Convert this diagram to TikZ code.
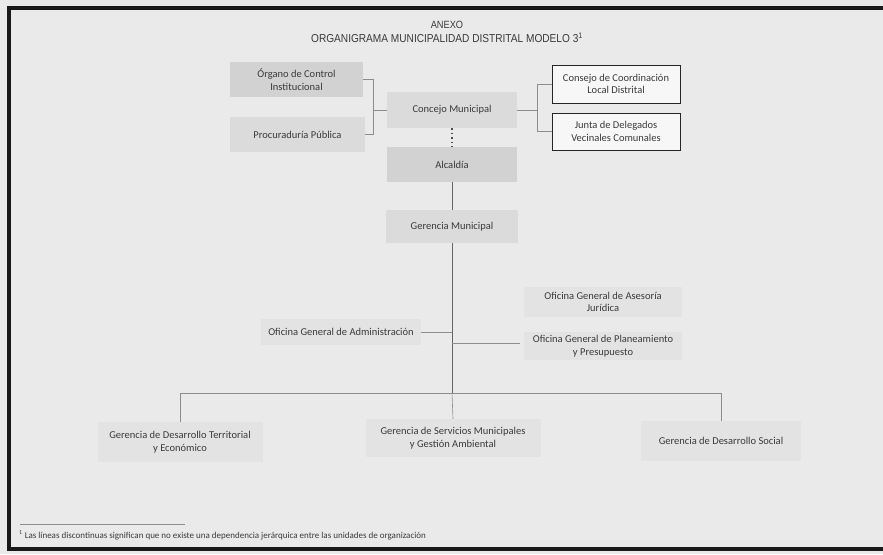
\documentclass[tikz,border=0pt]{standalone}
\usepackage{fontspec}
\setmainfont{Carlito}
\newfontfamily\titlefont[FakeStretch=0.88]{Liberation Sans}
\usepackage{xcolor}
\definecolor{paper}{HTML}{EAEAEA}
\definecolor{inkgray}{HTML}{3A3A3A}
\definecolor{unitdark}{HTML}{D2D2D2}
\definecolor{unitmid}{HTML}{DBDBDB}
\definecolor{unitfaint}{HTML}{E3E3E3}
\definecolor{linegray}{HTML}{8C8C8C}

\begin{document}
\begin{tikzpicture}[x=1pt, y=-1pt,
    unit/.style={fill=unitmid, text=inkgray, align=center, inner sep=2pt,
        font=\fontsize{10.5}{12.5}\selectfont},
    outunit/.style={unit, fill=white!60!paper, draw=black!85, line width=1pt},
    faintunit/.style={unit, fill=unitfaint},
    conn/.style={draw=linegray, line width=0.6pt},
    mainline/.style={draw=black!60, line width=0.8pt}]
    \useasboundingbox (0,0) rectangle (883,554);
    \fill[paper] (0,0) rectangle (883,554);

    % Frame
    \draw[line width=3.5pt, black!90] (883,8) -- (9,8) -- (9,549) -- (883,549);

    % Title
    \node[text=inkgray, font=\titlefont\fontsize{10.5}{12}\selectfont] (anexo) at (447,25) {ANEXO};
    \node[text=inkgray, font=\titlefont\fontsize{11.5}{13}\selectfont] (titulo) at (447,38)
        {ORGANIGRAMA MUNICIPALIDAD DISTRITAL MODELO 3\textsuperscript{1}};

    % Top units
    \node[unit, fill=unitdark, minimum width=133, minimum height=35] (organo) at (296.5,79.5)
        {Órgano de Control\\Institucional};
    \node[unit, minimum width=135, minimum height=35] (procu) at (297.5,134.5) {Procuraduría Pública};
    \node[unit, minimum width=130, minimum height=36] (concejo) at (452,110) {Concejo Municipal};
    \node[unit, fill=unitdark, minimum width=130, minimum height=35] (alcaldia) at (452,164.5) {Alcaldía};
    \node[outunit, minimum width=128, minimum height=38] (consejo) at (616,84)
        {Consejo de Coordinación\\Local Distrital};
    \node[outunit, minimum width=128, minimum height=37] (junta) at (616,131.5)
        {Junta de Delegados\\Vecinales Comunales};
    \node[unit, minimum width=132, minimum height=33] (gerencia) at (452,226.5) {Gerencia Municipal};

    % Offices
    \node[faintunit, minimum width=160, minimum height=26] (admin) at (341,332)
        {Oficina General de Administración};
    \node[faintunit, minimum width=158, minimum height=30] (asesoria) at (603,302)
        {Oficina General de Asesoría\\Jurídica};
    \node[faintunit, minimum width=158, minimum height=28] (planea) at (603,346)
        {Oficina General de Planeamiento\\y Presupuesto};

    % Bottom units
    \node[faintunit, minimum width=165, minimum height=40] (territorial) at (180,442)
        {Gerencia de Desarrollo Territorial\\y Económico};
    \node[faintunit, minimum width=175, minimum height=38] (servicios) at (453,438)
        {Gerencia de Servicios Municipales\\y Gestión Ambiental};
    \node[faintunit, minimum width=160, minimum height=40] (social) at (721,441)
        {Gerencia de Desarrollo Social};

    % Connectors
    \coordinate (lbrack) at (373,110);
    \coordinate (rbrack) at (537,110);
    \draw[conn] (organo.east) -- (organo.east -| lbrack) |- (procu.east);
    \draw[conn] (lbrack) -- (concejo.west);
    \draw[conn] (concejo.east) -- (rbrack);
    \draw[conn] (consejo.west) -- (consejo.west -| rbrack) |- (junta.west);
    \draw[black!70, line width=1.2pt, dash pattern=on 1.5pt off 3pt] (concejo.south) -- (alcaldia.north);
    \draw[mainline] (alcaldia.south) -- (gerencia.north);

    \coordinate (barmid) at (452,393);
    \coordinate (barleft) at (180,393);
    \coordinate (barright) at (721,393);
    \coordinate (ofstub) at (520,343);
    \draw[mainline] (gerencia.south) -- (barmid);
    \draw[conn] (admin.east) -- (admin.east -| barmid);
    \draw[conn] (ofstub -| barmid) -- (ofstub);
    \draw[conn] (barleft) -- (barright);
    \draw[conn] (barleft) -- (territorial.north);
    \draw[conn] (barmid) -- (servicios.north);
    \draw[conn] (barright) -- (social.north);

    % Footnote
    \coordinate (noteleft) at (20,524);
    \coordinate (noteright) at (185,524);
    \draw[linegray, line width=0.6pt] (noteleft) -- (noteright);
    \node[anchor=west, text=inkgray, inner sep=0pt, font=\fontsize{9}{11}\selectfont] (nota) at (19,535)
        {\textsuperscript{1} Las líneas discontinuas significan que no existe una dependencia jerárquica entre las unidades de organización};
\end{tikzpicture}
\end{document}
